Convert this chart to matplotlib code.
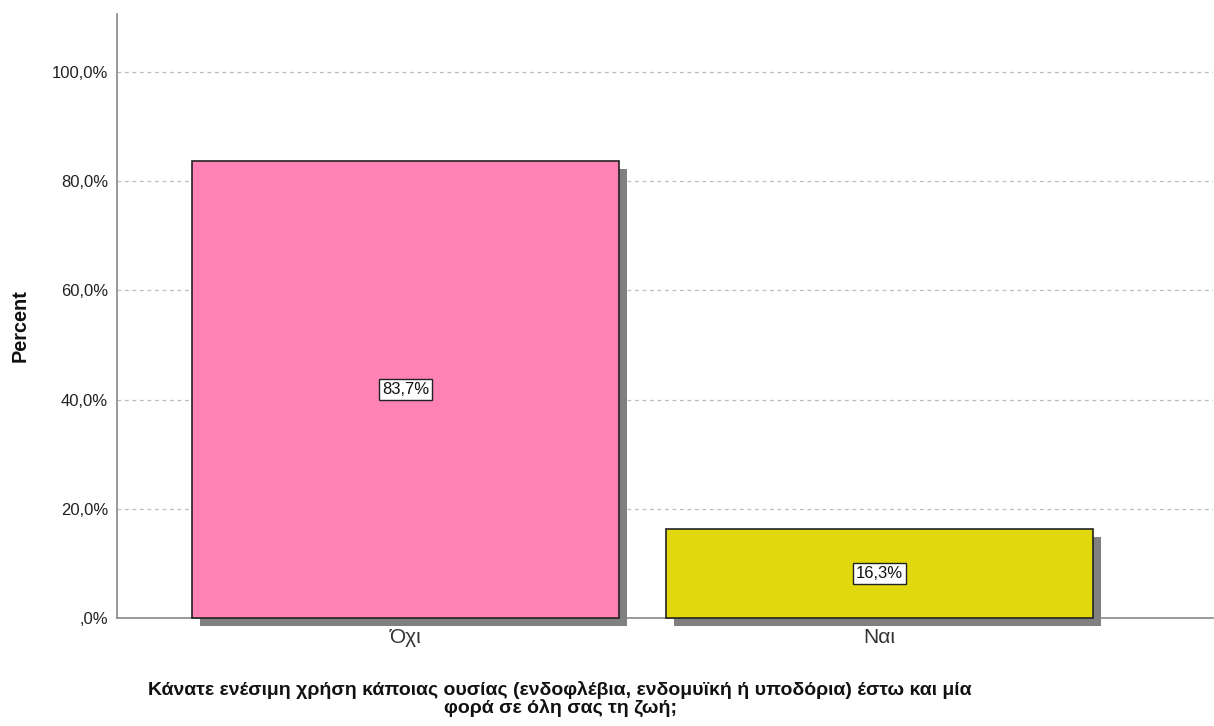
import matplotlib
matplotlib.use("Agg")
import matplotlib.pyplot as plt
import matplotlib.patheffects as pe

plt.rcParams['font.family'] = ['Liberation Sans', 'DejaVu Sans']

categories = ['Όχι', 'Ναι']
percents = [83.7, 16.3]
bar_colors = ['#FF82B4', '#E2D80E']
yticks = [0, 20, 40, 60, 80, 100]
ytick_labels = [',0%', '20,0%', '40,0%', '60,0%', '80,0%', '100,0%']
xlabel = ('Κάνατε ενέσιμη χρήση κάποιας ουσίας (ενδοφλέβια, ενδομυϊκή ή υποδόρια) έστω και μία\n'
          'φορά σε όλη σας τη ζωή;')

W, H = 1214, 726
fig = plt.figure(figsize=(W / 100, H / 100), dpi=100)
ax = fig.add_axes([117 / W, (H - 618) / H, (1213 - 117) / W, (618 - 14) / H])

x = list(range(len(categories)))
shadow = pe.SimplePatchShadow(offset=(5.8, -5.8), shadow_rgbFace='#808080', alpha=1.0)
bars = ax.bar(x, percents, width=0.9, color=bar_colors, edgecolor='#222222',
              linewidth=1.2, zorder=3, clip_on=False,
              path_effects=[shadow, pe.Normal()])

for xi, v in zip(x, percents):
    ax.text(xi, v / 2, f'{v:.1f}%'.replace('.', ','), ha='center', va='center',
            fontsize=12, zorder=5, color='#111111',
            bbox=dict(boxstyle='square,pad=0.18', facecolor='white',
                      edgecolor='#222222', linewidth=1.0))

ax.set_xlim(-0.6087, 1.7036)
ax.set_ylim(0, 110.6)
ax.set_yticks(yticks)
ax.set_yticklabels(ytick_labels, fontsize=12, color='#222222')
ax.set_xticks(x)
ax.set_xticklabels(categories, fontsize=15, color='#333333')
ax.tick_params(axis='both', length=0)
ax.tick_params(axis='y', pad=6.5)
ax.tick_params(axis='x', pad=7)

ax.yaxis.grid(True, linestyle=(0, (3, 3)), color='#BBBBBB', linewidth=0.9, zorder=0)
ax.set_axisbelow(True)
for s in ['top', 'right']:
    ax.spines[s].set_visible(False)
ax.spines['left'].set_color('#888888')
ax.spines['bottom'].set_color('#888888')
ax.spines['left'].set_linewidth(1.2)
ax.spines['bottom'].set_linewidth(1.2)

fig.text(560 / W, 1 - 699 / H, xlabel, ha='center', va='center',
         fontsize=14, fontweight='bold', linespacing=0.95, color='#111111')
fig.text(20 / W, 1 - 326 / H, 'Percent', ha='center', va='center',
         rotation=90, fontsize=14.3, fontweight='bold', color='#111111')

fig.savefig('out.png', dpi=100)
